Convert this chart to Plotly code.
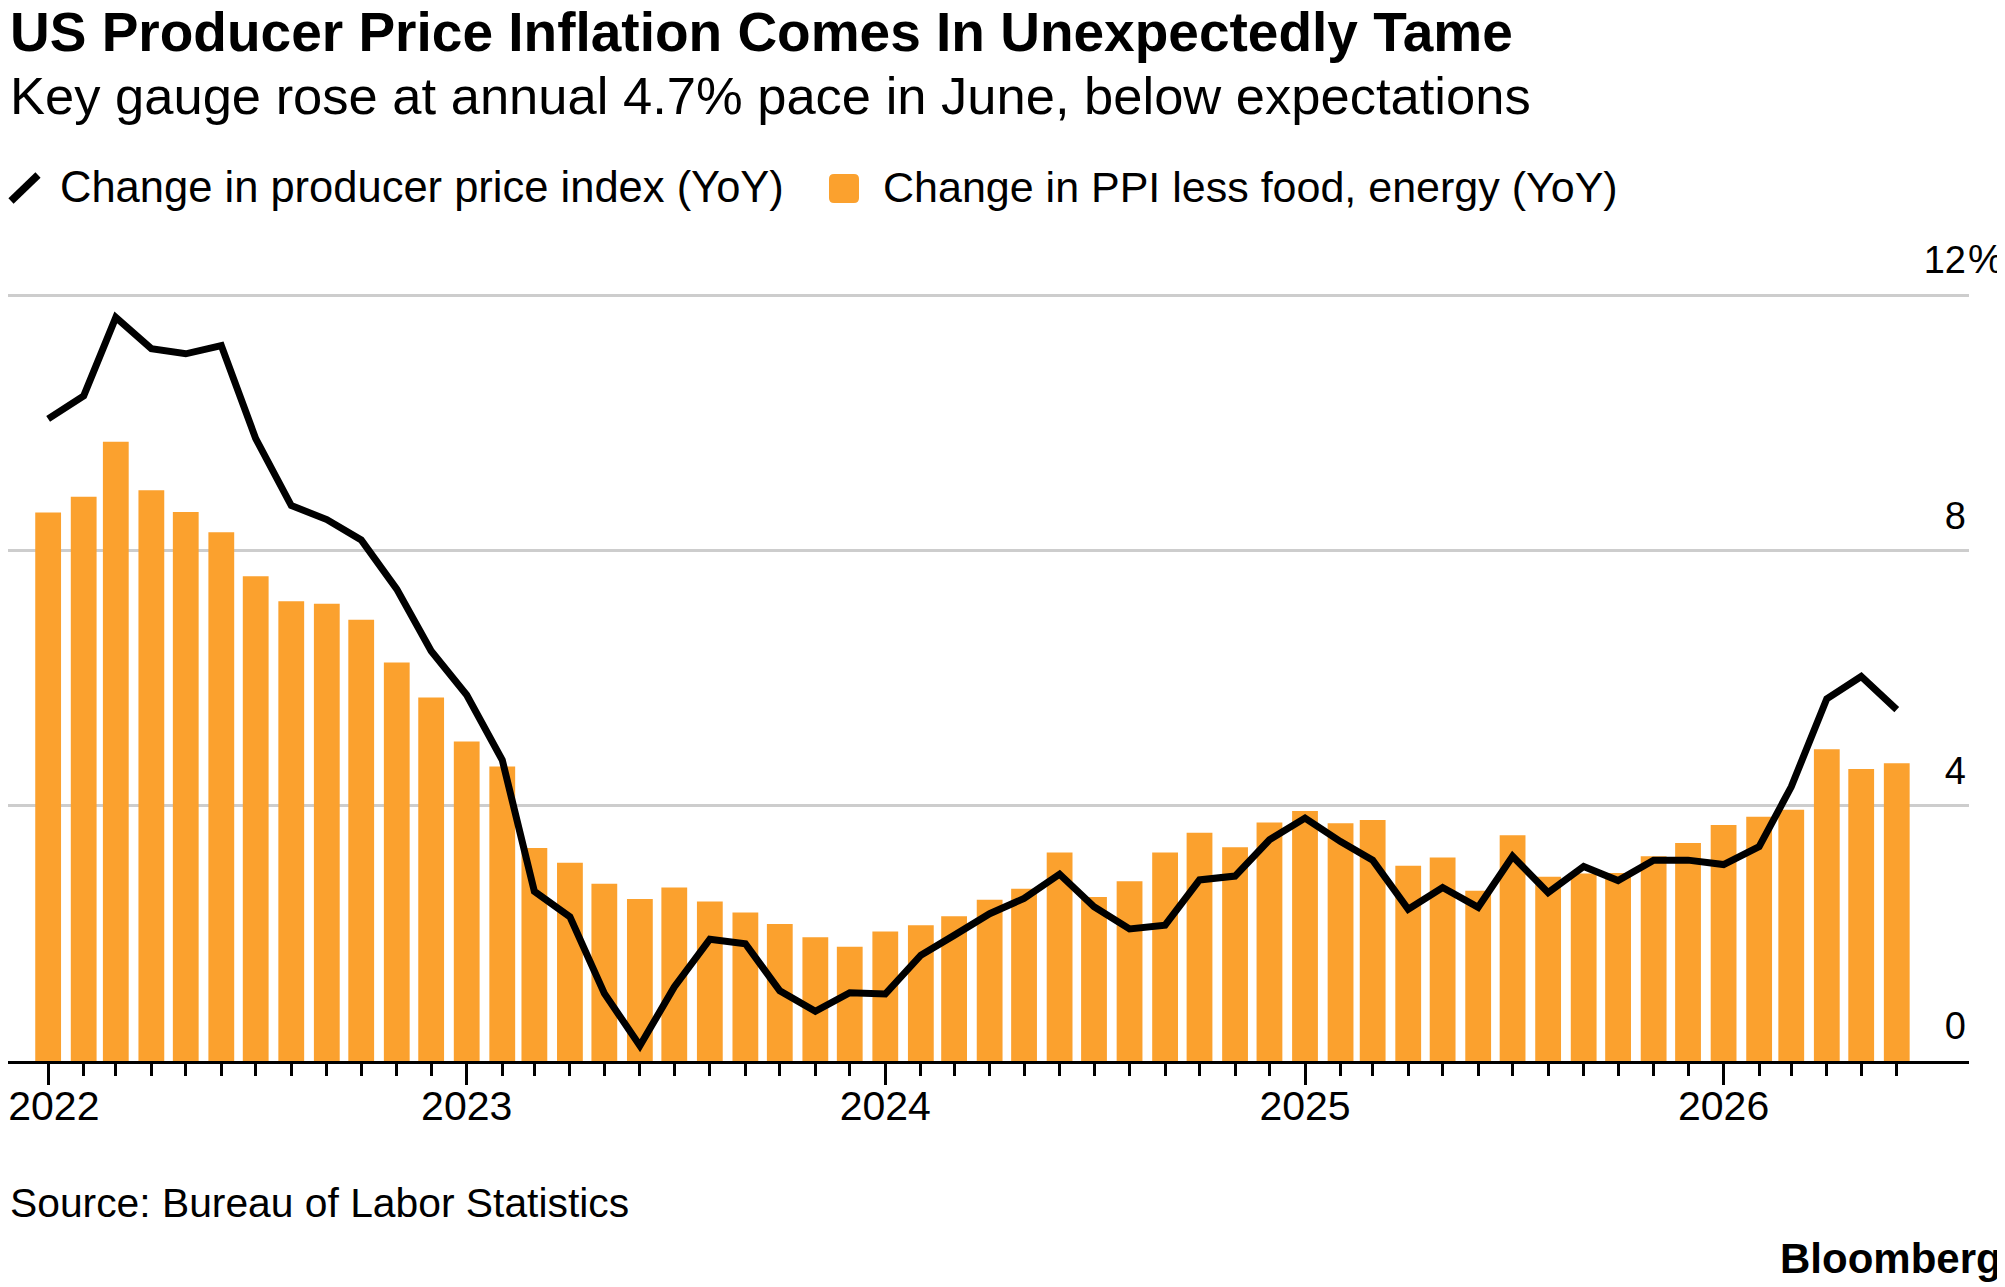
"""Bloomberg-style chart: US producer price inflation, headline vs core."""

import pandas as pd
import plotly.graph_objects as go

# --- data (YoY %, monthly, Jan 2022 - Jun 2026) ---
MONTHS = pd.date_range("2022-01-01", periods=54, freq="MS")

PPI_YOY = [
    10.07, 10.43, 11.66, 11.17, 11.09, 11.22, 9.76, 8.71, 8.49, 8.17, 7.40, 6.43,
    5.74, 4.72, 2.66, 2.26, 1.06, 0.24, 1.16, 1.91, 1.84, 1.10, 0.78, 1.07,
    1.05, 1.66, 1.97, 2.31, 2.55, 2.93, 2.42, 2.07, 2.13, 2.84, 2.90, 3.47,
    3.81, 3.44, 3.15, 2.38, 2.72, 2.41, 3.21, 2.64, 3.05, 2.83, 3.15, 3.15,
    3.08, 3.36, 4.30, 5.68, 6.03, 5.51,
]

PPI_CORE_YOY = [
    8.60, 8.85, 9.71, 8.95, 8.61, 8.29, 7.60, 7.21, 7.17, 6.92, 6.25, 5.70,
    5.01, 4.62, 3.34, 3.11, 2.78, 2.54, 2.72, 2.50, 2.33, 2.15, 1.94, 1.79,
    2.03, 2.13, 2.27, 2.53, 2.70, 3.27, 2.57, 2.82, 3.27, 3.58, 3.35, 3.74,
    3.92, 3.73, 3.78, 3.06, 3.19, 2.67, 3.54, 2.89, 2.94, 2.95, 3.21, 3.42,
    3.70, 3.83, 3.94, 4.89, 4.58, 4.67,
]

YEAR_TICKS = ["2022-01-01", "2023-01-01", "2024-01-01", "2025-01-01", "2026-01-01"]
YEAR_LABELS = ["\u00a02022", "2023", "2024", "2025", "2026"]
Y_TICKS = [0, 4, 8, 12]
Y_LABELS = ["0", "4", "8", "12"]

TITLE = "US Producer Price Inflation Comes In Unexpectedly Tame"
SUBTITLE = "Key gauge rose at annual 4.7% pace in June, below expectations"
LEGEND_LINE = "Change in producer price index (YoY)"
LEGEND_BAR = "Change in PPI less food, energy (YoY)"
SOURCE = "Source: Bureau of Labor Statistics"

# --- styling ---
# the page body adds an 8px margin, so the figure is laid out 8px smaller
# and all screen positions below are converted with OFFSET
OFFSET = 8
W, H = 2005 - OFFSET, 1287 - OFFSET
PLOT_L, PLOT_R, PLOT_T, PLOT_B = 0, 1961, 224, 1053
Y_MAX = 13
ORANGE = "#FBA12E"
GRID = "#CDCDCD"
FONT = "Liberation Sans, Arial, sans-serif"
DAY_MS = 86400000


def px_x(x):
    """screen x -> paper x"""
    return (x - OFFSET - PLOT_L) / (PLOT_R - PLOT_L)


def px_y(y):
    """screen y -> paper y"""
    return (PLOT_B - (y - OFFSET)) / (PLOT_B - PLOT_T)


def rounded_rect(x0, y0, x1, y1, r):
    """SVG path (paper coords) for a rounded square given in screen px."""
    rx = r / (PLOT_R - PLOT_L)
    ry = r / (PLOT_B - PLOT_T)
    L, R, T, B = px_x(x0), px_x(x1), px_y(y0), px_y(y1)
    return (
        f"M{L + rx},{T} L{R - rx},{T} Q{R},{T} {R},{T - ry} "
        f"L{R},{B + ry} Q{R},{B} {R - rx},{B} L{L + rx},{B} "
        f"Q{L},{B} {L},{B + ry} L{L},{T - ry} Q{L},{T} {L + rx},{T} Z"
    )


fig = go.Figure()

fig.add_trace(
    go.Bar(
        x=MONTHS,
        y=PPI_CORE_YOY,
        width=[22.5 * DAY_MS] * len(MONTHS),
        marker=dict(color=ORANGE, line=dict(width=0)),
        name=LEGEND_BAR,
    )
)
fig.add_trace(
    go.Scatter(
        x=MONTHS,
        y=PPI_YOY,
        mode="lines",
        line=dict(color="black", width=7),
        name=LEGEND_LINE,
    )
)

fig.update_layout(
    width=W,
    height=H,
    margin=dict(l=PLOT_L, r=W - PLOT_R, t=PLOT_T, b=H - PLOT_B, pad=0),
    paper_bgcolor="white",
    plot_bgcolor="white",
    showlegend=False,
    font=dict(family=FONT, color="black"),
)

fig.update_xaxes(
    type="date",
    range=["2021-11-27", "2026-08-03"],
    automargin=False,
    tickmode="array",
    tickvals=YEAR_TICKS,
    ticktext=YEAR_LABELS,
    ticks="outside",
    ticklen=21,
    tickwidth=2.5,
    tickcolor="black",
    tickfont=dict(size=41, family=FONT, color="black"),
    ticklabelstandoff=-14,
    ticklabeloverflow="allow",
    minor=dict(
        tickmode="array",
        tickvals=list(MONTHS),
        ticks="outside",
        ticklen=12,
        tickwidth=2.5,
        tickcolor="black",
        showgrid=False,
    ),
    showline=True,
    linecolor="black",
    linewidth=2.5,
    showgrid=False,
    zeroline=False,
)

fig.update_yaxes(
    range=[0, Y_MAX],
    automargin=False,
    side="right",
    tickmode="array",
    tickvals=Y_TICKS,
    ticktext=Y_LABELS,
    ticklabelposition="inside top",
    ticklabelshift=-9,
    tickfont=dict(size=38, family=FONT, color="black"),
    showgrid=True,
    gridcolor=GRID,
    gridwidth=2.8,
    zeroline=False,
    showline=False,
    ticks="",
)

annotations = [
    dict(text="%", x=1, y=12, xref="paper", yref="y", xanchor="left",
         yanchor="bottom", xshift=-3, yshift=13, font=dict(size=40)),
    dict(text=f"<b>{TITLE}</b>", x=px_x(OFFSET), y=px_y(32), font=dict(size=55)),
    dict(text=SUBTITLE, x=px_x(OFFSET), y=px_y(95), font=dict(size=52.5)),
    dict(text=LEGEND_LINE, x=px_x(58), y=px_y(187), font=dict(size=43.5)),
    dict(text=LEGEND_BAR, x=px_x(881), y=px_y(187), font=dict(size=43)),
    dict(text=SOURCE, x=px_x(OFFSET), y=px_y(1203), font=dict(size=40.8)),
    dict(text="<b>Bloomberg</b>", x=px_x(2004), y=px_y(1258), xanchor="right",
         font=dict(size=42)),
]
for ann in annotations:
    ann.setdefault("xref", "paper")
    ann.setdefault("yref", "paper")
    ann.setdefault("xanchor", "left")
    ann.setdefault("yanchor", "middle")
    ann.setdefault("showarrow", False)
    ann["font"].setdefault("family", FONT)
    ann["font"].setdefault("color", "black")
    fig.add_annotation(**ann)

# legend keys drawn by hand: slanted line and rounded orange square
fig.add_shape(
    type="line", xref="paper", yref="paper",
    x0=px_x(11), y0=px_y(201), x1=px_x(38), y1=px_y(175),
    line=dict(color="black", width=7.5),
)
fig.add_shape(
    type="path", xref="paper", yref="paper",
    path=rounded_rect(829, 174, 859, 203, 5),
    fillcolor=ORANGE, line=dict(width=0),
)

fig.write_html("out.html")
